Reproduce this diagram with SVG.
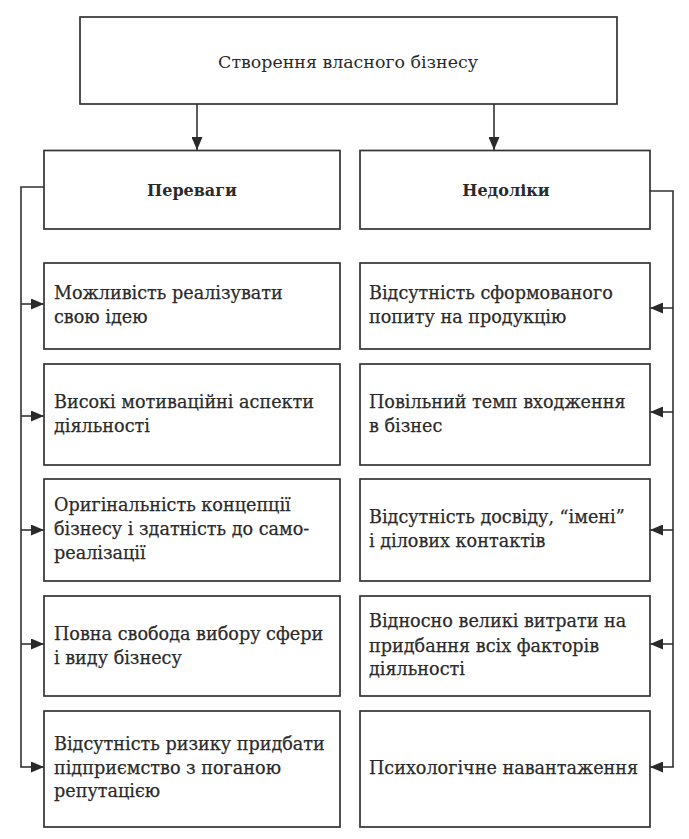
<svg xmlns="http://www.w3.org/2000/svg" width="689" height="839" viewBox="0 0 689 839">
<style>
.box{fill:#fff;stroke:#333;stroke-width:1.7}
.con{fill:none;stroke:#333;stroke-width:1.6}
text{font-family:"DejaVu Serif","Liberation Serif",serif;fill:#2a2a2a}
.t{font-size:17.4px}
.h{font-size:16px;font-weight:bold;text-anchor:middle}
.b{font-size:17.6px;stroke:#2a2a2a;stroke-width:0.25}
</style>
<defs>
<marker id="ah" viewBox="0 0 13 11" refX="13" refY="5.5" markerWidth="13" markerHeight="11" markerUnits="userSpaceOnUse" orient="auto">
<path d="M0,0 L13,5.5 L0,11 Z" fill="#2a2a2a"/>
</marker>
</defs>
<rect width="689" height="839" fill="#fff"/>
<g id="connectors">
<line class="con" x1="197" y1="104" x2="197" y2="150" marker-end="url(#ah)"/>
<line class="con" x1="494" y1="104" x2="494" y2="150" marker-end="url(#ah)"/>
<polyline class="con" points="44,187 21,187 21,767"/>
<line class="con" x1="21" y1="304" x2="44" y2="304" marker-end="url(#ah)"/>
<line class="con" x1="21" y1="416" x2="44" y2="416" marker-end="url(#ah)"/>
<line class="con" x1="21" y1="530" x2="44" y2="530" marker-end="url(#ah)"/>
<line class="con" x1="21" y1="644" x2="44" y2="644" marker-end="url(#ah)"/>
<line class="con" x1="20.2" y1="767" x2="44" y2="767" marker-end="url(#ah)"/>
<polyline class="con" points="650,191 673,191 673,767"/>
<line class="con" x1="673" y1="308" x2="650" y2="308" marker-end="url(#ah)"/>
<line class="con" x1="673" y1="412" x2="650" y2="412" marker-end="url(#ah)"/>
<line class="con" x1="673" y1="530" x2="650" y2="530" marker-end="url(#ah)"/>
<line class="con" x1="673" y1="644" x2="650" y2="644" marker-end="url(#ah)"/>
<line class="con" x1="673.8" y1="767" x2="650" y2="767" marker-end="url(#ah)"/>
</g>
<g id="root"><rect class="box" x="80" y="17" width="537" height="87"/><text class="t" x="348" y="68" text-anchor="middle">Створення власного бізнесу</text></g>
<g id="perevagy"><rect class="box" x="44" y="150.5" width="296" height="78.5"/><text class="h" x="192" y="196">Переваги</text></g>
<g id="nedoliky"><rect class="box" x="360" y="150.5" width="290" height="78.5"/><text class="h" x="506" y="196">Недоліки</text></g>
<g id="l1"><rect class="box" x="44" y="263" width="296" height="86"/><text class="b" x="54" y="299">Можливість реалізувати</text><text class="b" x="54" y="323">свою ідею</text></g>
<g id="l2"><rect class="box" x="44" y="364" width="296" height="101"/><text class="b" x="54" y="408">Високі мотиваційні аспекти</text><text class="b" x="54" y="432">діяльності</text></g>
<g id="l3"><rect class="box" x="44" y="479" width="296" height="102"/><text class="b" x="54" y="511">Оригінальність концепції</text><text class="b" x="54" y="535">бізнесу і здатність до само-</text><text class="b" x="54" y="559">реалізації</text></g>
<g id="l4"><rect class="box" x="44" y="596" width="296" height="100"/><text class="b" x="54" y="640">Повна свобода вибору сфери</text><text class="b" x="54" y="664">і виду бізнесу</text></g>
<g id="l5"><rect class="box" x="44" y="711" width="296" height="116"/><text class="b" x="54" y="750">Відсутність ризику придбати</text><text class="b" x="54" y="774">підприємство з поганою</text><text class="b" x="54" y="797">репутацією</text></g>
<g id="r1"><rect class="box" x="360" y="263" width="290" height="86"/><text class="b" x="369" y="299">Відсутність сформованого</text><text class="b" x="369" y="323">попиту на продукцію</text></g>
<g id="r2"><rect class="box" x="360" y="364" width="290" height="101"/><text class="b" x="369" y="408">Повільний темп входження</text><text class="b" x="369" y="432">в бізнес</text></g>
<g id="r3"><rect class="box" x="360" y="479" width="290" height="102"/><text class="b" x="369" y="523">Відсутність досвіду, “імені”</text><text class="b" x="369" y="547">і ділових контактів</text></g>
<g id="r4"><rect class="box" x="360" y="596" width="290" height="100"/><text class="b" x="369" y="627">Відносно великі витрати на</text><text class="b" x="369" y="652">придбання всіх факторів</text><text class="b" x="369" y="675">діяльності</text></g>
<g id="r5"><rect class="box" x="360" y="711" width="290" height="116"/><text class="b" x="369" y="774">Психологічне навантаження</text></g>
</svg>
